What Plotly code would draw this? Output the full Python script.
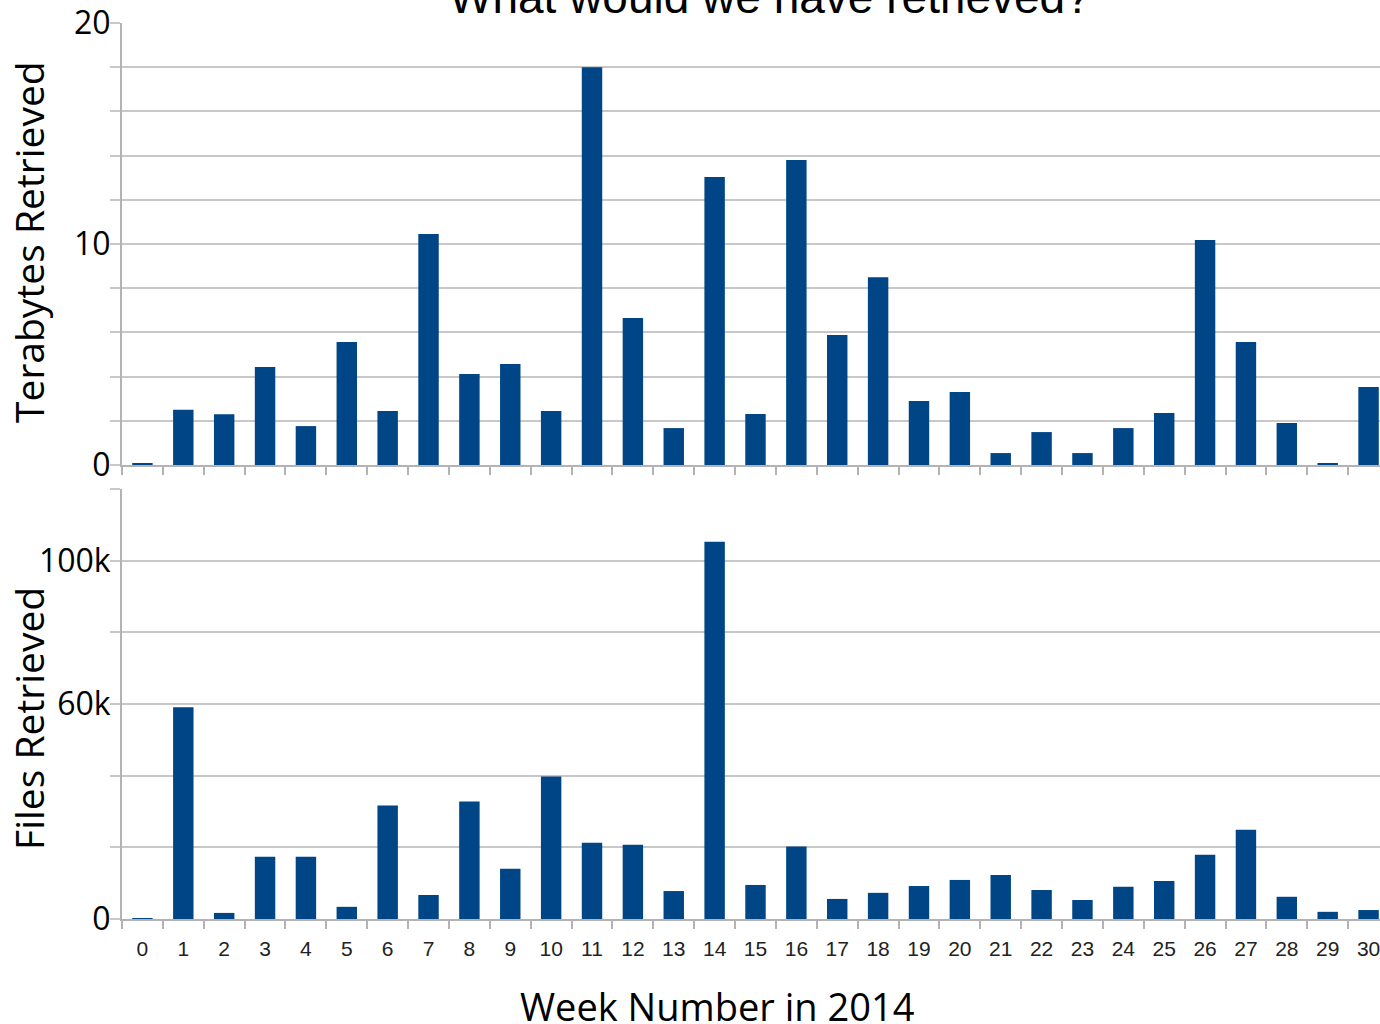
import plotly.graph_objects as go
from plotly.subplots import make_subplots

weeks = [str(i) for i in range(31)]
terabytes = [0.08, 2.5, 2.3, 4.43, 1.76, 5.57, 2.44, 10.45, 4.12, 4.57, 2.44,
             18.0, 6.65, 1.67, 13.03, 2.31, 13.8, 5.88, 8.5, 2.9, 3.3,
             0.54, 1.49, 0.54, 1.67, 2.35, 10.18, 5.57, 1.9, 0.05, 3.53]
files = [200, 59100, 1700, 17400, 17400, 3400, 31700, 6700, 32800, 14000, 39800,
         21300, 20700, 7800, 105300, 9500, 20200, 5600, 7300, 9200, 10900,
         12300, 8100, 5300, 9000, 10600, 17900, 24900, 6200, 2000, 2500]

title_text = "What would we have retrieved?"
x_title = "Week Number in 2014"
y1_title = "Terabytes Retrieved"
y2_title = "Files Retrieved"
y1_ticks = [0, 10, 20]
y2_ticks = [0, 60000, 100000]
y2_ticktext = ["0", "60k", "100k"]

BAR = "#004586"
GRID = "#c8c8c8"
AXIS = "#b3b3b3"

W, H = 1380, 1024
ml, mr, mt, mb = 122, 0, 23, 105
ph = H - mt - mb

fig = make_subplots(rows=2, cols=1, shared_xaxes=False, vertical_spacing=0.02)
fig.add_trace(go.Bar(x=weeks, y=terabytes, marker=dict(color=BAR, line=dict(width=0)),
                     showlegend=False), row=1, col=1)
fig.add_trace(go.Bar(x=weeks, y=files, marker=dict(color=BAR, line=dict(width=0)),
                     showlegend=False), row=2, col=1)

top_bottom = (919 - 465) / ph
bot_top = (919 - 489) / ph

xcommon = dict(type="category", range=[-0.5, 30.28], showline=True, linecolor=AXIS,
               linewidth=2, ticks="outside", tickson="boundaries", ticklen=8,
               tickcolor=AXIS, tickwidth=2, showgrid=False, zeroline=False,
               fixedrange=True)
fig.update_xaxes(**xcommon)
fig.update_xaxes(showticklabels=False, row=1, col=1)
fig.update_xaxes(showticklabels=True, row=2, col=1,
                 tickfont=dict(family="Liberation Sans", size=21, color="#222222"),
                 ticklabelstandoff=10)

ycommon = dict(showline=True, linecolor=AXIS, linewidth=2, showgrid=True,
               gridcolor=GRID, gridwidth=2, zeroline=False, ticks="outside",
               ticklen=10, tickcolor=GRID, tickwidth=2,
               tickfont=dict(family="Open Sans", size=32, color="black"),
               ticklabelstandoff=-7, fixedrange=True)
fig.update_yaxes(**ycommon)
fig.update_yaxes(range=[0, 20], tickmode="array", tickvals=y1_ticks,
                 domain=[top_bottom, 1.0],
                 minor=dict(tickmode="linear", tick0=0, dtick=2, showgrid=True,
                            gridcolor=GRID, gridwidth=2, ticks="outside", ticklen=10,
                            tickcolor=GRID, tickwidth=2),
                 row=1, col=1)
fig.update_yaxes(range=[0, 120000], tickmode="array", tickvals=y2_ticks,
                 ticktext=y2_ticktext, domain=[0.0, bot_top],
                 minor=dict(tickmode="linear", tick0=0, dtick=20000, showgrid=True,
                            gridcolor=GRID, gridwidth=2, ticks="outside", ticklen=10,
                            tickcolor=GRID, tickwidth=2),
                 row=2, col=1)

def px_x(p):
    return (p - ml) / (W - ml - mr)

def px_y(p):
    return (H - mb - p) / ph

annos = [
    dict(text=title_text, x=px_x(770), y=px_y(-3), xref="paper", yref="paper",
         showarrow=False, xanchor="center", yanchor="middle",
         font=dict(family="Liberation Sans", size=46, color="black")),
    dict(text=x_title, x=px_x(717), y=px_y(1006), xref="paper", yref="paper",
         showarrow=False, xanchor="center", yanchor="middle",
         font=dict(family="Open Sans", size=38, color="black")),
    dict(text=y1_title, x=px_x(28), y=px_y(242), xref="paper", yref="paper",
         showarrow=False, xanchor="center", yanchor="middle", textangle=-90,
         font=dict(family="Open Sans", size=39, color="black")),
    dict(text=y2_title, x=px_x(28), y=px_y(719), xref="paper", yref="paper",
         showarrow=False, xanchor="center", yanchor="middle", textangle=-90,
         font=dict(family="Open Sans", size=39, color="black")),
]

fig.update_layout(width=W, height=H, margin=dict(l=ml, r=mr, t=mt, b=mb),
                  paper_bgcolor="white", plot_bgcolor="white", bargap=0.5,
                  annotations=annos, showlegend=False)

fig.write_html("out.html", config={"displayModeBar": False},
               post_script="document.body.style.margin='0';document.body.style.overflow='hidden';")
